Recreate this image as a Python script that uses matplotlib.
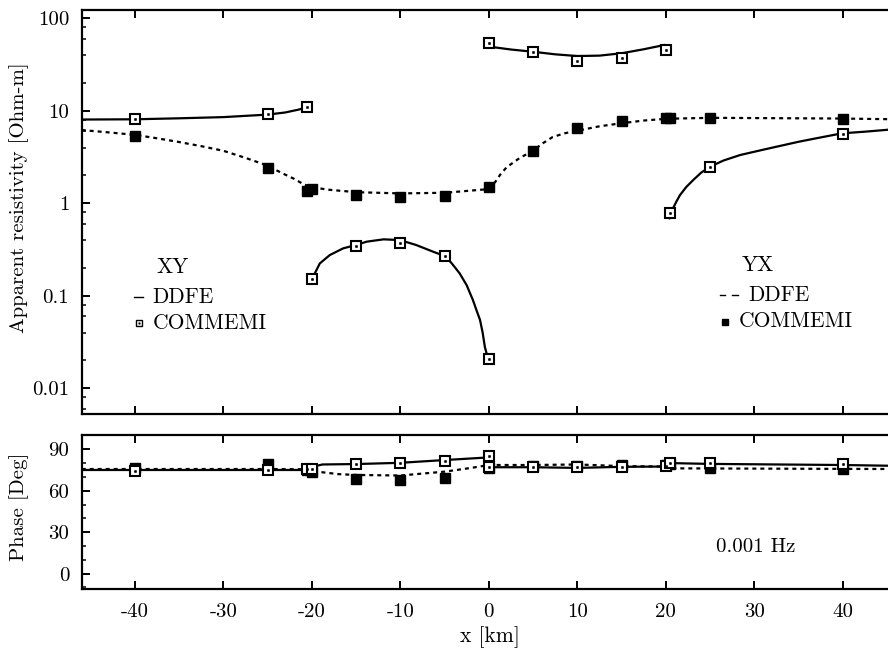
import matplotlib
matplotlib.use("Agg")
import matplotlib.pyplot as plt
from matplotlib.ticker import FixedLocator, FixedFormatter, NullFormatter

plt.rcParams['font.family'] = ['cmr10', 'DejaVu Serif']
plt.rcParams['axes.unicode_minus'] = False
plt.rcParams['axes.formatter.use_mathtext'] = True
plt.rcParams['mathtext.fontset'] = 'cm'

# ---------------- data ----------------
x_ticks = [-40, -30, -20, -10, 0, 10, 20, 30, 40]
x_tick_labels = ["-40", "-30", "-20", "-10", "0", "10", "20", "30", "40"]
rho_ticks = [0.01, 0.1, 1, 10, 100]
rho_tick_labels = ["0.01", "0.1", "1", "10", "100"]
phase_ticks = [0, 30, 60, 90]
phase_tick_labels = ["0", "30", "60", "90"]

# XY COMMEMI (open squares) apparent resistivity
xy_cm_x = [-40, -25, -20.5, -20, -15, -10, -5, 0, 0, 5, 10, 15, 20, 20.5, 25, 40]
xy_cm_rho = [8.2, 9.3, 11.0, 0.152, 0.345, 0.375, 0.27, 0.021, 54.5, 43.5, 34.8, 37.5, 45.4, 0.78, 2.45, 5.6]

# YX COMMEMI (filled squares) apparent resistivity
yx_cm_x = [-40, -25, -20.5, -20, -15, -10, -5, 0, 5, 10, 15, 20, 20.5, 25, 40]
yx_cm_rho = [5.4, 2.39, 1.35, 1.42, 1.24, 1.16, 1.21, 1.52, 3.72, 6.55, 7.73, 8.4, 8.4, 8.4, 8.1]

# XY DDFE (solid) apparent resistivity, four branches
xy_a_x = [-46, -40, -35, -30, -25, -23, -21.5, -20.5]
xy_a_rho = [8.05, 8.1, 8.3, 8.55, 9.1, 9.6, 10.3, 11.0]
xy_b_x = [-20.2, -19.66, -19.1, -17.97, -16.46, -15.03, -13.8, -11.9, -10.06, -8.2, -6.3,
          -4.97, -4.2, -3.3, -2.5, -1.8, -1.4, -1.0, -0.7, -0.45, -0.1]
xy_b_rho = [0.155, 0.175, 0.224, 0.276, 0.326, 0.354, 0.385, 0.408, 0.401, 0.354, 0.30,
            0.269, 0.225, 0.175, 0.13, 0.09, 0.07, 0.055, 0.04, 0.028, 0.021]
xy_c_x = [0.1, 2.5, 5, 7.5, 10, 12.5, 15, 17.5, 19.8]
xy_c_rho = [49.3, 46, 43.5, 40.8, 39.1, 39.5, 41.9, 46.3, 51.4]
xy_d_x = [20.4, 20.6, 20.8, 21.2, 21.6, 22.3, 23.1, 24, 25, 26.5, 28.4, 31, 35, 37, 39.9, 42.5, 46]
xy_d_rho = [0.69, 0.78, 0.88, 1.05, 1.23, 1.5, 1.79, 2.15, 2.49, 2.9, 3.33, 3.8, 4.63, 5.05, 5.71, 5.95, 6.35]

# YX DDFE (dotted) apparent resistivity
yx_x = [-46, -43, -40, -37.5, -35, -32.5, -30, -27.5, -25, -23.5, -22, -21, -20, -18, -15,
        -10, -5, -0.2, 0.7, 1.3, 2, 3.5, 5, 6, 7.2, 8.5, 10, 12.5, 15, 17.5, 20, 25, 30, 40, 46]
yx_rho = [6.2, 5.85, 5.5, 5.05, 4.6, 4.15, 3.7, 3.1, 2.56, 2.15, 1.84, 1.62, 1.49, 1.4, 1.32,
          1.28, 1.3, 1.42, 1.69, 2.05, 2.45, 3.1, 3.7, 4.4, 5.2, 5.7, 6.1, 6.8, 7.35, 7.85, 8.2,
          8.4, 8.35, 8.25, 8.1]

# Phase, DDFE
xy_ph_x = [-46, -20.5, -19.8, -18.8, -15, -10, -5, -0.3, 0.3, 5, 10, 15, 19.8, 20.5, 25, 40, 46]
xy_ph = [75, 75, 77.5, 79, 79.3, 80.2, 82.2, 84, 77, 77, 76.5, 77.3, 77.5, 80, 79.4, 78.6, 78]
yx_ph_x = [-46, -25, -20.5, -19, -17, -15, -10, -5, -2, -0.3, 0.3, 5, 10, 15, 19.8, 20.5, 25, 30, 40, 46]
yx_ph = [75.7, 75.7, 75.5, 73.5, 72, 71.4, 71, 73.8, 76.5, 78.3, 78.6, 78.6, 79, 77.8, 77.5, 76.2, 76.1, 76, 75.8, 75.7]

# Phase, COMMEMI
xy_cm_ph = [74.5, 75, 76, 76, 79.1, 79.8, 81.7, 85.4, 77, 77, 77, 77.5, 78, 80, 79.8, 79]
yx_cm_ph = [76.5, 79, 75, 73.8, 68.5, 67.7, 69, 76.7, 78, 78, 78.5, 78.6, 79, 76.2, 75.7]

# ---------------- figure ----------------
W, H = 888, 660
fig = plt.figure(figsize=(W / 100, H / 100), dpi=100)

left = 81.7 / W
width = (896 - 81.7) / W
ax1 = fig.add_axes([left, 1 - 414.3 / H, width, (414.3 - 10) / H])
ax2 = fig.add_axes([left, 1 - 589.3 / H, width, (589.3 - 434.5) / H])

LW = 1.6
dash = (1.8, 1.8)
open_kw = dict(marker='s', ms=7, mfc='white', mec='black', mew=1.5, ls='none', zorder=4)
dot_kw = dict(marker='s', ms=1.3, mfc='black', mec='black', mew=0.5, ls='none', zorder=5)
fill_kw = dict(marker='s', ms=6.5, mfc='black', mec='black', mew=1.0, ls='none', zorder=3)

# top panel
for xs, ys in [(xy_a_x, xy_a_rho), (xy_b_x, xy_b_rho), (xy_c_x, xy_c_rho), (xy_d_x, xy_d_rho)]:
    ax1.plot(xs, ys, color='black', lw=LW, zorder=2, solid_joinstyle='round')
ax1.plot(yx_x, yx_rho, color='black', lw=LW, ls=(0, dash), zorder=2)
ax1.plot(yx_cm_x, yx_cm_rho, **fill_kw)
ax1.plot(xy_cm_x, xy_cm_rho, **open_kw)
ax1.plot(xy_cm_x, xy_cm_rho, **dot_kw)

ax1.set_yscale('log')
ax1.set_xlim(-46, 46)
ax1.set_ylim(0.00524, 123)

# bottom panel
ax2.plot(xy_ph_x, xy_ph, color='black', lw=LW, zorder=2)
ax2.plot(yx_ph_x, yx_ph, color='black', lw=LW, ls=(0, dash), zorder=2)
ax2.plot(yx_cm_x, yx_cm_ph, **fill_kw)
ax2.plot(xy_cm_x, xy_cm_ph, **open_kw)
ax2.plot(xy_cm_x, xy_cm_ph, **dot_kw)
ax2.set_xlim(-46, 46)
ax2.set_ylim(-11.4, 100.7)

# ticks
minor_rho = [m * 10.0 ** e for e in range(-3, 3) for m in (2, 4, 6, 8)]
for ax in (ax1, ax2):
    ax.xaxis.set_major_locator(FixedLocator(x_ticks))
    ax.tick_params(axis='both', which='major', direction='in', length=6.0, width=1.4,
                   labelsize=15, pad=9, top=True, right=False)
    ax.tick_params(axis='both', which='minor', direction='in', length=3.0, width=1.1,
                   top=False, right=False)
    for s in ax.spines.values():
        s.set_linewidth(1.6)

ax1.xaxis.set_major_formatter(NullFormatter())
ax1.yaxis.set_major_locator(FixedLocator(rho_ticks))
ax1.yaxis.set_major_formatter(FixedFormatter(rho_tick_labels))
ax1.yaxis.set_minor_locator(FixedLocator(minor_rho))
ax1.yaxis.set_minor_formatter(NullFormatter())

ax2.xaxis.set_major_formatter(FixedFormatter(x_tick_labels))
ax2.yaxis.set_major_locator(FixedLocator(phase_ticks))
ax2.yaxis.set_major_formatter(FixedFormatter(phase_tick_labels))
ax2.yaxis.set_minor_locator(FixedLocator([-10, 10, 20, 40, 50, 70, 80, 100]))
ax2.yaxis.set_minor_formatter(NullFormatter())
ax2.tick_params(axis='x', which='major', pad=10)

# axis labels
fig.text(19 / W, 1 - 198 / H, "Apparent resistivity [Ohm-m]", rotation=90,
         ha='center', va='center', fontsize=15)
fig.text(19 / W, 1 - 507 / H, "Phase [Deg]", rotation=90,
         ha='center', va='center', fontsize=15)
fig.text(490 / W, 1 - 637 / H, "x [km]", ha='center', va='center', fontsize=15.5)

# legends (drawn in data coordinates of top panel)
fs_leg = 15.5
ax1.text(-37.6, 0.205, "XY", fontsize=fs_leg, ha='left', va='center')
ax1.plot([-40.1, -39.1], [0.097, 0.097], color='black', lw=1.0)
ax1.text(-38.0, 0.097, "DDFE", fontsize=fs_leg, ha='left', va='center')
ax1.plot([-39.5], [0.0508], marker='s', ms=5, mfc='white', mec='black', mew=1.0)
ax1.plot([-39.5], [0.0508], marker='s', ms=1.0, mfc='black', mec='black', mew=0.4)
ax1.text(-38.0, 0.0508, "COMMEMI", fontsize=fs_leg, ha='left', va='center')

ax1.text(28.55, 0.215, "YX", fontsize=fs_leg, ha='left', va='center')
ax1.plot([26.1, 26.7], [0.102, 0.102], color='black', lw=1.0)
ax1.plot([27.5, 28.1], [0.102, 0.102], color='black', lw=1.0)
ax1.text(29.3, 0.102, "DDFE", fontsize=fs_leg, ha='left', va='center')
ax1.plot([26.7], [0.0525], marker='s', ms=5, mfc='black', mec='black')
ax1.text(28.2, 0.0525, "COMMEMI", fontsize=fs_leg, ha='left', va='center')

ax2.text(30.2, 19.4, "0.001 Hz", fontsize=15, ha='center', va='center')

fig.savefig("out.png", dpi=100)
